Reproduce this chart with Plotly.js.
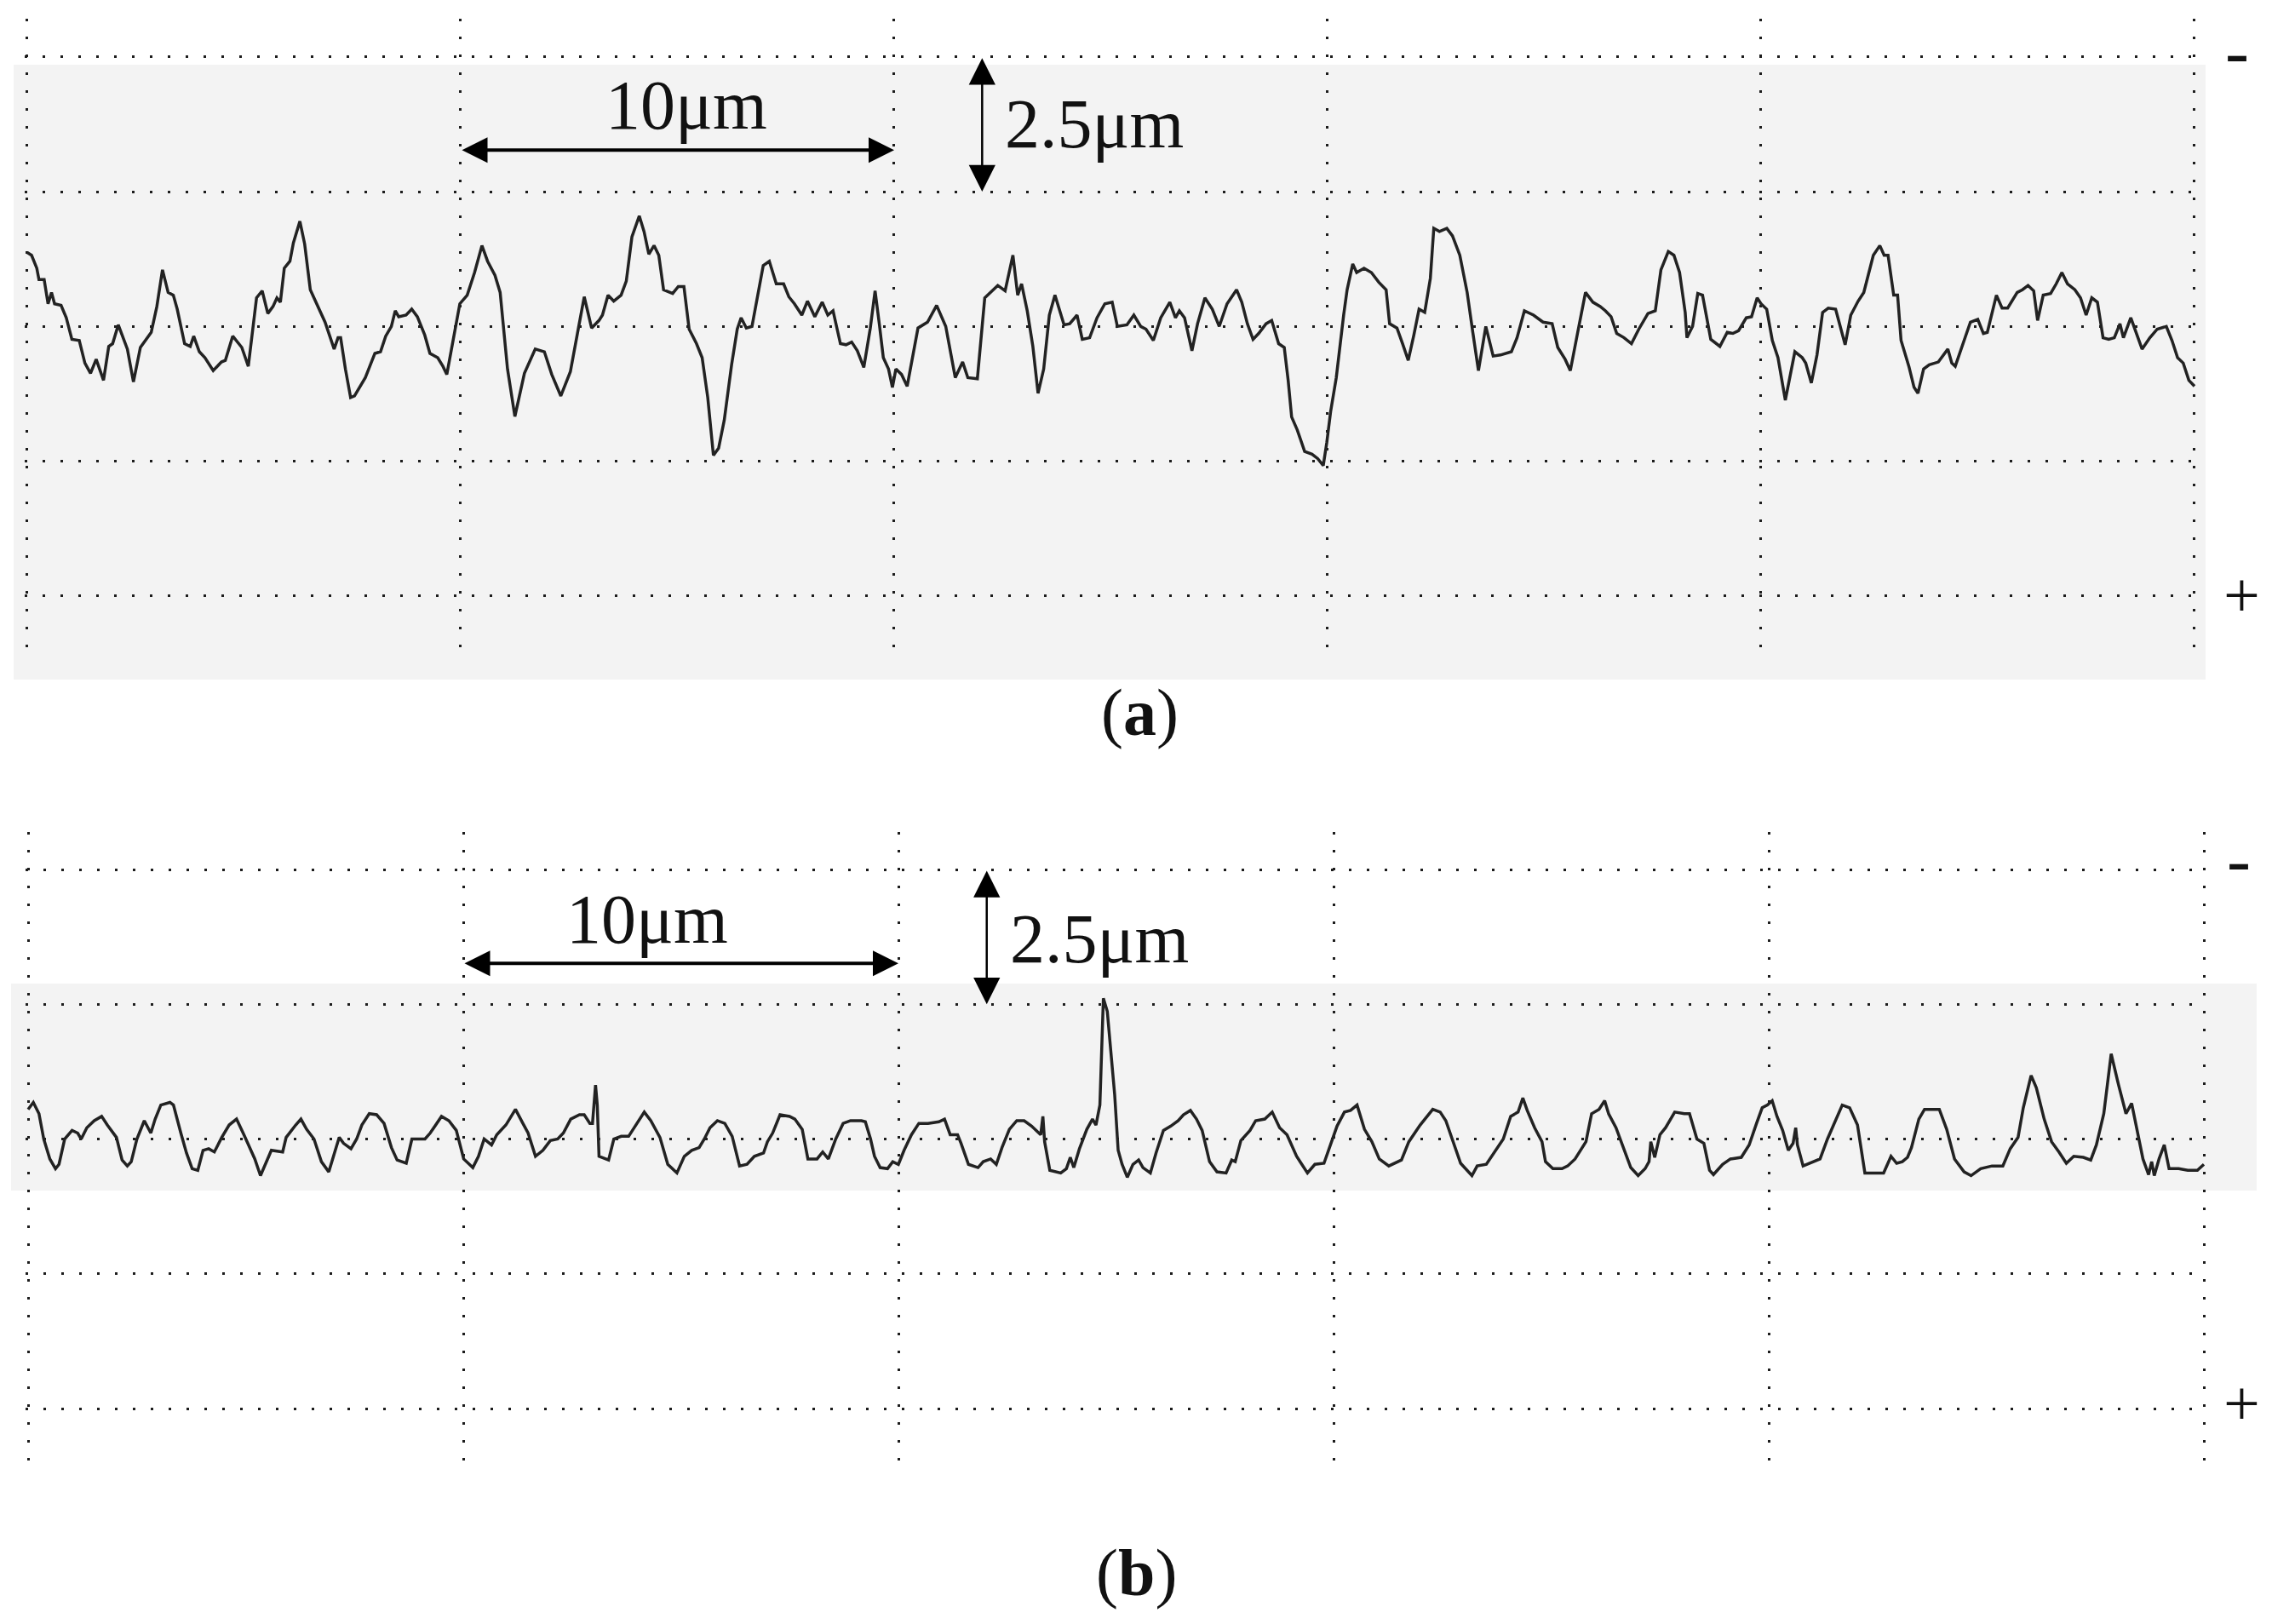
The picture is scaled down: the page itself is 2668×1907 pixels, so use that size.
<!DOCTYPE html>
<html>
<head>
<meta charset="utf-8">
<script src="https://cdn.plot.ly/plotly-3.0.1.min.js"></script>
<style>
  body { margin: 0; background: #ffffff; }
  #profile-plot { width: 2668px; height: 1907px; }
</style>
</head>
<body>
<div id="profile-plot"></div>
<script>
// profile (a): position along trace (um) and height (um)
const xA = [0, 0.10, 0.22, 0.27, 0.39, 0.48, 0.56, 0.63, 0.78, 0.90, 1.03, 1.20, 1.33, 1.46, 1.59, 1.76, 1.88, 1.97, 2.10, 2.31,
    2.45, 2.61, 2.86, 2.99, 3.12, 3.25, 3.37, 3.46, 3.63, 3.76, 3.84, 3.97, 4.10, 4.29, 4.48, 4.57, 4.74, 4.95, 5.10, 5.29,
    5.42, 5.55, 5.67, 5.76, 5.84, 5.93, 6.06, 6.14, 6.29, 6.40, 6.53, 6.70, 6.87, 7.08, 7.17, 7.23, 7.34, 7.46, 7.55, 7.80,
    8.02, 8.15, 8.27, 8.40, 8.49, 8.57, 8.74, 8.87, 9.00, 9.17, 9.29, 9.47, 9.59, 9.68, 9.85, 9.98, 10.15, 10.32, 10.49, 10.62,
    10.79, 10.91, 11.08, 11.25, 11.47, 11.72, 11.93, 12.10, 12.31, 12.53, 12.73, 12.85, 13.02, 13.19, 13.27, 13.40, 13.53, 13.70, 13.82, 13.95,
    14.12, 14.23, 14.34, 14.46, 14.57, 14.68, 14.89, 15.02, 15.15, 15.27, 15.44, 15.57, 15.70, 15.83, 15.95, 16.08, 16.25, 16.38, 16.47, 16.59,
    16.72, 16.85, 16.98, 17.12, 17.28, 17.45, 17.57, 17.70, 17.87, 18.00, 18.17, 18.34, 18.47, 18.59, 18.76, 18.89, 19.02, 19.15, 19.30, 19.45,
    19.56, 19.66, 19.75, 19.87, 19.96, 20.04, 20.17, 20.30, 20.43, 20.55, 20.77, 20.98, 21.19, 21.41, 21.58, 21.70, 21.92, 22.09, 22.22, 22.39,
    22.56, 22.74, 22.85, 22.94, 23.07, 23.20, 23.32, 23.45, 23.58, 23.71, 23.92, 24.05, 24.22, 24.34, 24.51, 24.68, 24.86, 25.03, 25.15, 25.37,
    25.53, 25.69, 25.81, 25.98, 26.15, 26.36, 26.49, 26.58, 26.70, 26.87, 27.00, 27.17, 27.34, 27.50, 27.68, 27.90, 28.02, 28.15, 28.28, 28.41,
    28.58, 28.71, 28.87, 29.00, 29.09, 29.17, 29.30, 29.47, 29.64, 29.77, 29.90, 29.98, 30.07, 30.20, 30.37, 30.45, 30.58, 30.67, 30.84, 31.01,
    31.18, 31.35, 31.43, 31.60, 31.73, 31.86, 31.99, 32.11, 32.24, 32.37, 32.45, 32.58, 32.75, 32.88, 33.05, 33.22, 33.35, 33.48, 33.65, 33.82,
    33.99, 34.24, 34.37, 34.54, 34.75, 34.97, 35.18, 35.31, 35.48, 35.60, 35.77, 35.95, 36.12, 36.29, 36.41, 36.54, 36.67, 36.84, 37.01, 37.18,
    37.39, 37.56, 37.69, 37.86, 37.99, 38.12, 38.25, 38.29, 38.42, 38.54, 38.65, 38.84, 39.05, 39.22, 39.35, 39.48, 39.66, 39.78, 39.91, 40.00,
    40.13, 40.26, 40.39, 40.56, 40.65, 40.78, 40.95, 41.03, 41.16, 41.29, 41.42, 41.55, 41.72, 41.81, 41.94, 42.07, 42.24, 42.37, 42.50, 42.59,
    42.74, 42.84, 42.93, 43.06, 43.15, 43.23, 43.41, 43.53, 43.62, 43.75, 43.88, 44.09, 44.31, 44.40, 44.48, 44.66, 44.83, 45.00, 45.13, 45.22,
    45.34, 45.43, 45.56, 45.69, 45.91, 46.03, 46.16, 46.29, 46.38, 46.51, 46.68, 46.81, 46.94, 47.07, 47.24, 47.37, 47.50, 47.63, 47.76, 47.89,
    48.02, 48.15, 48.28, 48.36, 48.53, 48.66, 48.79, 48.97, 49.14, 49.35, 49.48, 49.61, 49.74, 49.87, 50.00];
const yA = [1.37, 1.32, 1.08, 0.87, 0.87, 0.42, 0.63, 0.42, 0.39, 0.16, -0.24, -0.26, -0.68, -0.87, -0.61, -1.00, -0.37, -0.32, 0.03, -0.42,
    -1.03, -0.39, -0.11, 0.37, 1.05, 0.63, 0.58, 0.32, -0.32, -0.37, -0.18, -0.47, -0.58, -0.82, -0.66, -0.63, -0.18, -0.39, -0.74, 0.53,
    0.66, 0.24, 0.37, 0.53, 0.45, 1.08, 1.21, 1.55, 1.95, 1.53, 0.68, 0.37, 0.08, -0.42, -0.21, -0.21, -0.79, -1.32, -1.29, -0.95,
    -0.50, -0.47, -0.18, 0.00, 0.29, 0.18, 0.21, 0.32, 0.18, -0.16, -0.50, -0.58, -0.74, -0.89, -0.11, 0.42, 0.58, 1.00, 1.50, 1.21,
    0.95, 0.63, -0.79, -1.67, -0.87, -0.42, -0.47, -0.89, -1.29, -0.84, 0.03, 0.55, -0.03, 0.11, 0.21, 0.58, 0.47, 0.58, 0.84, 1.66,
    2.05, 1.76, 1.34, 1.50, 1.32, 0.68, 0.61, 0.74, 0.74, -0.05, -0.32, -0.58, -1.32, -2.39, -2.26, -1.74, -0.71, -0.05, 0.16, -0.03,
    0.00, 0.58, 1.13, 1.21, 0.79, 0.79, 0.55, 0.42, 0.21, 0.47, 0.18, 0.45, 0.21, 0.29, -0.32, -0.34, -0.29, -0.45, -0.76, -0.03,
    0.66, 0.03, -0.58, -0.79, -1.13, -0.79, -0.89, -1.11, -0.53, -0.03, 0.08, 0.39, 0.00, -0.95, -0.66, -0.95, -0.97, 0.53, 0.63, 0.76,
    0.66, 1.32, 0.58, 0.79, 0.29, -0.37, -1.24, -0.79, 0.21, 0.58, 0.03, 0.05, 0.21, -0.24, -0.21, 0.16, 0.42, 0.45, 0.00, 0.03,
    0.21, 0.00, -0.05, -0.26, 0.16, 0.45, 0.16, 0.29, 0.16, -0.45, 0.05, 0.53, 0.32, 0.00, 0.42, 0.68, 0.45, 0.05, -0.24, -0.13,
    0.05, 0.11, -0.32, -0.39, -1.00, -1.68, -1.92, -2.32, -2.37, -2.45, -2.58, -2.16, -1.58, -0.95, 0.21, 0.68, 1.16, 1.00, 1.08, 1.00,
    0.82, 0.68, 0.05, -0.03, -0.32, -0.63, -0.16, 0.32, 0.26, 0.89, 1.82, 1.76, 1.82, 1.68, 1.32, 0.63, -0.11, -0.82, 0.00, -0.55,
    -0.53, -0.47, -0.21, 0.29, 0.21, 0.08, 0.05, -0.39, -0.61, -0.82, -0.11, 0.63, 0.45, 0.37, 0.29, 0.18, -0.13, -0.21, -0.32, -0.05,
    0.24, 0.29, 1.05, 1.39, 1.32, 1.00, 0.26, -0.21, 0.00, 0.61, 0.58, -0.24, -0.37, -0.11, -0.13, -0.08, 0.16, 0.18, 0.53, 0.42,
    0.32, -0.26, -0.58, -1.37, -1.00, -0.47, -0.58, -0.68, -1.05, -0.53, 0.26, 0.34, 0.32, 0.05, -0.34, 0.21, 0.47, 0.63, 1.05, 1.32,
    1.50, 1.32, 1.32, 0.58, 0.58, -0.26, -0.74, -1.13, -1.24, -0.79, -0.71, -0.66, -0.42, -0.68, -0.74, -0.32, 0.08, 0.13, -0.13, -0.11,
    0.26, 0.58, 0.34, 0.34, 0.63, 0.68, 0.76, 0.66, 0.11, 0.58, 0.61, 0.79, 1.00, 0.79, 0.68, 0.53, 0.21, 0.53, 0.45, -0.21,
    -0.24, -0.21, 0.05, -0.21, 0.16, -0.13, -0.42, -0.21, -0.05, 0.00, -0.26, -0.58, -0.68, -1.00, -1.11];

// profile (b)
const xB = [0, 0.12, 0.25, 0.36, 0.50, 0.63, 0.71, 0.84, 1.01, 1.14, 1.22, 1.35, 1.52, 1.69, 1.82, 2.03, 2.16, 2.28, 2.37, 2.50,
    2.67, 2.82, 2.92, 3.05, 3.26, 3.34, 3.51, 3.64, 3.77, 3.90, 4.02, 4.15, 4.28, 4.45, 4.62, 4.79, 4.96, 5.21, 5.34, 5.47,
    5.59, 5.85, 5.93, 6.15, 6.27, 6.40, 6.57, 6.74, 6.91, 7.04, 7.15, 7.25, 7.42, 7.55, 7.67, 7.84, 8.01, 8.18, 8.35, 8.48,
    8.69, 8.82, 8.95, 9.12, 9.24, 9.50, 9.67, 9.84, 10.01, 10.22, 10.35, 10.48, 10.65, 10.77, 10.98, 11.20, 11.37, 11.49, 11.66, 11.83,
    12.00, 12.17, 12.30, 12.47, 12.67, 12.78, 12.91, 12.97, 13.04, 13.08, 13.12, 13.34, 13.46, 13.63, 13.80, 14.02, 14.16, 14.31, 14.52, 14.70,
    14.91, 15.08, 15.25, 15.42, 15.54, 15.67, 15.84, 16.01, 16.18, 16.35, 16.52, 16.69, 16.90, 16.99, 17.11, 17.28, 17.50, 17.62, 17.79, 17.92,
    18.13, 18.26, 18.39, 18.56, 18.73, 18.90, 19.15, 19.24, 19.36, 19.45, 19.58, 19.75, 19.87, 20.00, 20.13, 20.30, 20.47, 20.68, 20.93, 21.06,
    21.19, 21.36, 21.44, 21.61, 21.83, 21.95, 22.12, 22.25, 22.38, 22.55, 22.72, 22.89, 23.06, 23.27, 23.32, 23.36, 23.48, 23.73, 23.86, 23.95,
    24.03, 24.16, 24.33, 24.46, 24.54, 24.63, 24.71, 24.80, 24.88, 24.97, 25.05, 25.14, 25.26, 25.39, 25.52, 25.62, 25.79, 25.92, 26.09, 26.26,
    26.43, 26.55, 26.71, 26.85, 26.98, 27.15, 27.32, 27.53, 27.66, 27.74, 27.87, 28.08, 28.21, 28.42, 28.59, 28.76, 28.93, 29.15, 29.40, 29.57,
    29.78, 29.91, 30.08, 30.25, 30.39, 30.54, 30.71, 30.88, 31.05, 31.27, 31.56, 31.73, 31.99, 32.28, 32.45, 32.58, 32.75, 32.92, 33.18, 33.30,
    33.51, 33.68, 33.90, 34.07, 34.24, 34.35, 34.45, 34.62, 34.79, 34.87, 35.04, 35.25, 35.38, 35.55, 35.80, 35.93, 36.10, 36.23, 36.32, 36.49,
    36.66, 36.83, 37.00, 37.16, 37.25, 37.29, 37.38, 37.50, 37.63, 37.84, 38.06, 38.18, 38.35, 38.51, 38.64, 38.73, 38.94, 39.12, 39.37, 39.55,
    39.72, 39.85, 39.97, 40.08, 40.19, 40.32, 40.45, 40.56, 40.62, 40.66, 40.79, 41.05, 41.18, 41.35, 41.56, 41.69, 41.86, 42.04, 42.21, 42.64,
    42.81, 42.94, 43.07, 43.19, 43.28, 43.45, 43.58, 43.92, 44.09, 44.27, 44.49, 44.65, 44.87, 45.13, 45.38, 45.55, 45.73, 45.85, 46.03, 46.15,
    46.33, 46.50, 46.67, 46.84, 47.01, 47.23, 47.40, 47.53, 47.70, 47.87, 48.04, 48.21, 48.34, 48.47, 48.60, 48.73, 48.80, 48.86, 48.97, 49.09,
    49.20, 49.42, 49.63, 49.85, 50.00];
const yB = [0.55, 0.68, 0.47, 0.00, -0.37, -0.55, -0.47, 0.00, 0.16, 0.11, 0.00, 0.21, 0.34, 0.42, 0.26, 0.03, -0.39, -0.50, -0.42, 0.00,
    0.34, 0.11, 0.37, 0.63, 0.68, 0.63, 0.11, -0.26, -0.55, -0.58, -0.21, -0.18, -0.24, 0.03, 0.26, 0.37, 0.08, -0.37, -0.68, -0.42,
    -0.21, -0.24, 0.03, 0.26, 0.37, 0.18, 0.00, -0.42, -0.61, -0.26, 0.03, -0.08, -0.18, 0.00, 0.26, 0.47, 0.45, 0.29, -0.16, -0.39,
    -0.45, 0.00, 0.00, 0.00, 0.11, 0.42, 0.34, 0.16, -0.37, -0.53, -0.32, 0.00, -0.11, 0.08, 0.26, 0.55, 0.29, 0.11, -0.32, -0.21,
    -0.03, 0.00, 0.11, 0.37, 0.45, 0.45, 0.29, 0.29, 1.00, 0.63, -0.32, -0.39, 0.00, 0.05, 0.05, 0.32, 0.50, 0.34, 0.03, -0.47,
    -0.63, -0.32, -0.21, -0.16, 0.00, 0.21, 0.34, 0.29, 0.05, -0.50, -0.47, -0.32, -0.26, -0.05, 0.11, 0.45, 0.42, 0.37, 0.18, -0.37,
    -0.37, -0.24, -0.37, 0.00, 0.29, 0.34, 0.34, 0.32, 0.00, -0.32, -0.53, -0.55, -0.42, -0.47, -0.21, 0.08, 0.29, 0.29, 0.32, 0.37,
    0.08, 0.08, -0.08, -0.47, -0.53, -0.42, -0.37, -0.47, -0.16, 0.18, 0.34, 0.34, 0.24, 0.08, 0.42, -0.05, -0.58, -0.63, -0.55, -0.34,
    -0.53, -0.18, 0.18, 0.37, 0.26, 0.63, 2.61, 2.37, 1.63, 0.82, -0.21, -0.47, -0.71, -0.47, -0.39, -0.53, -0.63, -0.26, 0.16, 0.24,
    0.34, 0.45, 0.53, 0.37, 0.16, -0.42, -0.61, -0.63, -0.39, -0.42, -0.03, 0.16, 0.34, 0.37, 0.50, 0.21, 0.08, -0.32, -0.63, -0.47,
    -0.45, -0.16, 0.24, 0.50, 0.53, 0.63, 0.18, -0.05, -0.37, -0.50, -0.39, -0.05, 0.26, 0.55, 0.50, 0.34, -0.05, -0.45, -0.68, -0.50,
    -0.47, -0.26, 0.00, 0.42, 0.50, 0.76, 0.53, 0.21, -0.05, -0.42, -0.55, -0.55, -0.50, -0.37, -0.05, 0.47, 0.55, 0.71, 0.47, 0.21,
    -0.16, -0.53, -0.68, -0.55, -0.42, -0.05, -0.34, 0.08, 0.21, 0.50, 0.47, 0.47, 0.00, -0.08, -0.58, -0.66, -0.47, -0.37, -0.34, -0.11,
    0.29, 0.58, 0.63, 0.71, 0.42, 0.16, -0.21, -0.08, 0.21, -0.11, -0.50, -0.42, -0.37, 0.00, 0.37, 0.63, 0.58, 0.26, -0.63, -0.63,
    -0.32, -0.45, -0.42, -0.34, -0.16, 0.37, 0.55, 0.55, 0.18, -0.37, -0.61, -0.68, -0.55, -0.50, -0.50, -0.18, 0.03, 0.58, 1.18, 0.95,
    0.37, -0.05, -0.24, -0.45, -0.32, -0.34, -0.39, -0.11, 0.47, 1.58, 1.00, 0.47, 0.66, 0.11, -0.37, -0.66, -0.42, -0.68, -0.37, -0.11,
    -0.55, -0.55, -0.58, -0.58, -0.47];

// chart grid: 10 um per column, 2.5 um per row
const xDiv = 10;
const yDiv = 2.5;
const scaleLenX = "10μm";
const scaleLenY = "2.5μm";

// page geometry (px)
const W = 2668, H = 1907;
const xRange = [-0.06, 50.06];
const yRange = [-6.03, 5.7];

function xDomain(px0, pxPerUm) {
    return [(px0 + pxPerUm * xRange[0]) / W, (px0 + pxPerUm * xRange[1]) / W];
}
function yDomain(pxZero, pxPerUm, rng) {
    return [1 - (pxZero - pxPerUm * rng[0]) / H, 1 - (pxZero - pxPerUm * rng[1]) / H];
}

const dotGrid = {
    showgrid: true,
    gridcolor: '#1c1c1c',
    gridwidth: 3,
    griddash: '3px,18px',
    zeroline: false,
    showline: false,
    showticklabels: false,
    ticks: '',
    fixedrange: true
};

var traceA = {
    x: xA, y: yA,
    xaxis: 'x', yaxis: 'y',
    type: 'scatter', mode: 'lines',
    line: { color: '#222222', width: 3.5 },
    hoverinfo: 'skip'
};
var traceB = {
    x: xB, y: yB,
    xaxis: 'x2', yaxis: 'y2',
    type: 'scatter', mode: 'lines',
    line: { color: '#222222', width: 3.5 },
    hoverinfo: 'skip'
};

const serif = 'Liberation Serif, Times New Roman, serif';

function scaleBar(xr, yr, arrowY, textX1, textY1, textX2, textY2) {
    return [
        // horizontal 10 um bar
        { xref: xr, yref: yr, axref: xr, ayref: yr, x: 2 * xDiv, y: arrowY, ax: xDiv, ay: arrowY,
          text: '', showarrow: true, arrowside: 'end+start', arrowhead: 2, startarrowhead: 2,
          arrowsize: 1.5, startarrowsize: 1.5, arrowwidth: 4, arrowcolor: '#000', standoff: 0, startstandoff: 0 },
        // vertical 2.5 um bar
        { xref: xr, yref: yr, axref: xr, ayref: yr, x: 22.03, y: yDiv, ax: 22.03, ay: 2 * yDiv,
          text: '', showarrow: true, arrowside: 'end+start', arrowhead: 2, startarrowhead: 2,
          arrowsize: 2.5, startarrowsize: 2.5, arrowwidth: 2.5, arrowcolor: '#000', standoff: 0, startstandoff: 0 },
        { xref: xr, yref: yr, x: textX1, y: textY1, text: scaleLenX, showarrow: false,
          font: { family: serif, size: 82, color: '#111' } },
        { xref: xr, yref: yr, x: textX2, y: textY2, text: scaleLenY, showarrow: false,
          font: { family: serif, size: 82, color: '#111' } }
    ];
}

// paper-anchored text, always centred on the given pixel spot
function paperText(px, py, text, size) {
    return { xref: 'paper', yref: 'paper', x: px / W, y: 1 - py / H, xanchor: 'center', yanchor: 'middle',
             text: text, showarrow: false, font: { family: serif, size: size, color: '#111' } };
}

var annotations = []
    .concat(scaleBar('x', 'y', 3.27, 15.2, 4.1, 24.62, 3.75))
    .concat(scaleBar('x2', 'y2', 3.26, 14.23, 4.07, 24.62, 3.72))
    .concat([
        paperText(2627, 60, '-', 84),
        paperText(2632, 698, '+', 76),
        paperText(2629, 1009, '-', 84),
        paperText(2632, 1647, '+', 76),
        paperText(1338, 836, '(<b>a</b>)', 78),
        paperText(1334, 1846, '(<b>b</b>)', 78)
    ]);

// light grey of the scanned recorder paper
var paperShades = [
    { type: 'rect', xref: 'paper', yref: 'paper', layer: 'below',
      x0: 16 / W, x1: 2590 / W, y0: 1 - 798 / H, y1: 1 - 76 / H,
      fillcolor: '#f3f3f3', line: { width: 0 } },
    { type: 'rect', xref: 'paper', yref: 'paper', layer: 'below',
      x0: 13 / W, x1: 2650 / W, y0: 1 - 1398 / H, y1: 1 - 1155 / H,
      fillcolor: '#f3f3f3', line: { width: 0 } }
];

var layout = {
    width: W,
    height: H,
    margin: { l: 0, r: 0, t: 0, b: 0, pad: 0 },
    paper_bgcolor: '#ffffff',
    plot_bgcolor: 'rgba(0,0,0,0)',
    showlegend: false,
    xaxis: Object.assign({}, dotGrid, { domain: xDomain(32, 50.9), range: xRange, tick0: 0, dtick: xDiv, anchor: 'y' }),
    yaxis: Object.assign({}, dotGrid, { domain: yDomain(383.3, 63.3, yRange), range: yRange, tick0: 0, dtick: yDiv, anchor: 'x' }),
    xaxis2: Object.assign({}, dotGrid, { domain: xDomain(33, 51.1), range: xRange, tick0: 0, dtick: xDiv, anchor: 'y2' }),
    yaxis2: Object.assign({}, dotGrid, { domain: yDomain(1337.5, 63.3, [-6.0, 5.7]), range: [-6.0, 5.7], tick0: 0, dtick: yDiv, anchor: 'x2' }),
    shapes: paperShades,
    annotations: annotations
};

Plotly.newPlot('profile-plot', [traceA, traceB], layout, { displayModeBar: false, staticPlot: true });
</script>
</body>
</html>
